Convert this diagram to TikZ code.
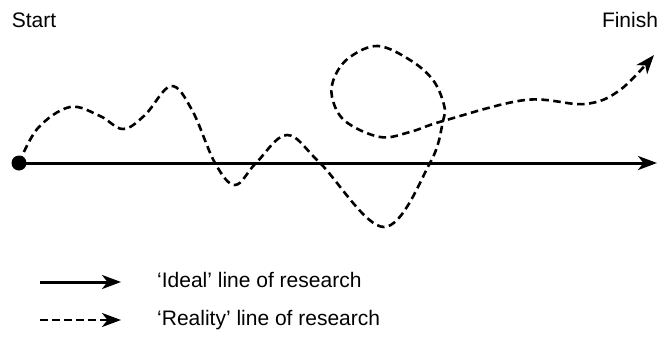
\documentclass[tikz,border=0pt]{standalone}
\usepackage{fontspec}
\setmainfont{Liberation Sans}
\usetikzlibrary{arrows.meta}
\begin{document}
\begin{tikzpicture}[x=1pt,y=-1pt,
  lbl/.style={font=\fontsize{21}{25}\selectfont, inner sep=0pt},
  leg/.style={font=\fontsize{21}{25}\selectfont, inner sep=0pt},
  tip/.style={-{Stealth[length=19pt,width=14pt,inset=5.5pt]}},
  ideal/.style={line width=3pt, tip},
  real/.style={line width=2.6pt, dash pattern=on 7.5pt off 4.5pt, tip}]
\useasboundingbox (0,0) rectangle (658,340);
\node[lbl] (start) at (34,20) {Start};
\node[lbl] (finish) at (630,20) {Finish};
\node[circle, fill=black, inner sep=0pt, minimum size=15pt] (s) at (19,163) {};
\coordinate (e) at (657,163);
\coordinate (f) at (654,55);
\draw[ideal] (s.center) -- (e);
\draw[real] plot[smooth, tension=0.6] coordinates {(19,163) (38,128) (70,107) (100,116) (123,129) (145,115) (171,86) (192,110) (215,163) (235,185) (256,163) (287,135) (320,163) (384,227) (430,163) (443,121) (444,105) (433,80) (410,60) (378,46) (350,57) (335,76) (332,97) (345,121) (380,137) (410,132) (443,121) (525,100) (585,104) (620,90) (f)};
\coordinate (l1a) at (40,282);
\coordinate (l1b) at (121,282);
\coordinate (l2a) at (40,320);
\coordinate (l2b) at (121,320);
\draw[ideal] (l1a) -- (l1b);
\draw[real] (l2a) -- (l2b);
\node[leg, anchor=base west] (t1) at (157,287) {`Ideal' line of research};
\node[leg, anchor=base west] (t2) at (157,325) {`Reality' line of research};
\end{tikzpicture}
\end{document}
